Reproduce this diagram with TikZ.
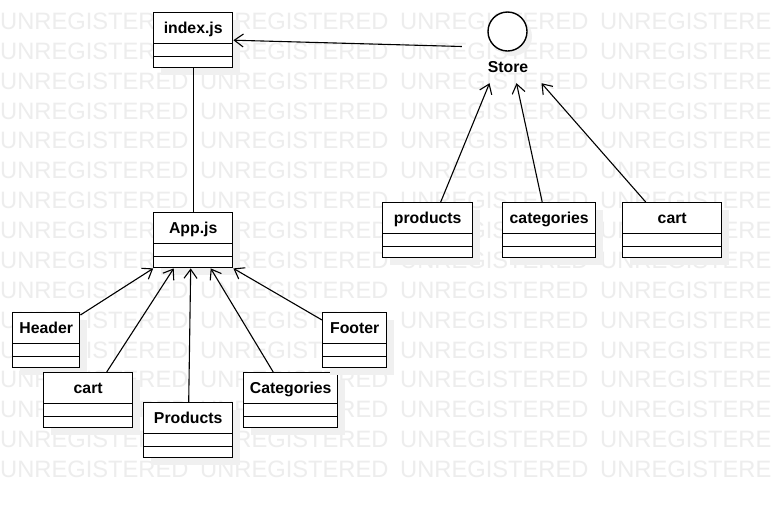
\documentclass[tikz,border=0pt]{standalone}
\usepackage{fontspec}
\setmainfont{Liberation Sans}
\usetikzlibrary{calc}
\usetikzlibrary{arrows.meta}
\usetikzlibrary{shadows}
\tikzset{every edge/.style={draw, line width=1.1pt}}
\tikzset{
  classbox/.style={draw, line width=1.4pt, fill=white, anchor=north west, inner sep=0pt,
    minimum height=55pt, text height=12pt, text depth=25pt,
    font=\bfseries\fontsize{15.8}{18}\selectfont,
    drop shadow={shadow xshift=7pt, shadow yshift=-7pt, fill=black!6, opacity=1},
    path picture={
      \draw[line width=1.4pt] ([yshift=-31pt]path picture bounding box.north west) -- ([yshift=-31pt]path picture bounding box.north east);
      \draw[line width=1.4pt] ([yshift=-44pt]path picture bounding box.north west) -- ([yshift=-44pt]path picture bounding box.north east);
    }},
  uses/.style={-{Straight Barb[length=9pt,width=13pt]}},
  wmark/.style={anchor=base west, inner sep=0pt, text=black!7, font=\fontsize{23.7}{28}\selectfont},
}

\begin{document}
\begin{tikzpicture}[x=1pt, y=-1pt]
    \useasboundingbox (0,0) rectangle (771,507);
    \fill[white] (0,0) rectangle (771,507);

    % watermark
    \begin{scope}
    \clip (0,0) rectangle (771,507);
    \foreach \row in {0,...,15}
      \foreach \col in {0,...,3}
        \node[wmark] (wm\row-\col) at ({200*\col}, {29.5+29.87*\row}) {UNREGISTERED};
    \end{scope}

    % components
    \node[classbox, minimum width=79pt] (index) at (153, 12) {index.js};
    \node[classbox, minimum width=79pt] (app) at (153, 212) {App.js};
    \node[classbox, minimum width=67pt] (header) at (12, 312) {Header};
    \node[classbox, minimum width=89pt] (cartL) at (43, 372) {cart};
    \node[classbox, minimum width=89pt] (prodL) at (143, 402) {Products};
    \node[classbox, minimum width=94pt] (catL) at (243, 372) {Categories};
    \node[classbox, minimum width=64pt] (footer) at (322, 312) {Footer};

    % store and slices
    \node[minimum width=91pt, minimum height=73pt, inner sep=0pt] (store) at (507.5, 46.5) {};
    \node[draw, circle, line width=1.4pt, fill=white, minimum size=39pt, inner sep=0pt,
          drop shadow={shadow xshift=5pt, shadow yshift=-5pt, fill=black!6, opacity=1}] (storehead) at (507.5, 31.5) {};
    \node[anchor=base, inner sep=0pt, font=\bfseries\fontsize{15.8}{18}\selectfont] (storelbl) at (508, 72) {Store};
    \node[classbox, minimum width=90pt] (prodR) at (382, 202) {products};
    \node[classbox, minimum width=93pt] (catR) at (502, 202) {categories};
    \node[classbox, minimum width=99pt] (cartR) at (622, 202) {cart};

    \draw (store.west) edge[uses] (index.east);
    \draw (app.north) edge (index.south);

    \draw ($(header.north east)+(0,3)$) edge[uses] ($(app.south)+(-40,0)$);
    \draw ($(cartL.north)+(18.5,0)$) edge[uses] ($(app.south)+(-19.5,0)$);
    \draw ($(prodL.north)+(0.5,0)$) edge[uses] ($(app.south)+(-2.5,0)$);
    \draw ($(catL.north)+(-17.5,0)$) edge[uses] ($(app.south)+(17.5,0)$);
    \draw ($(footer.north west)+(0,8)$) edge[uses] (app.south east);

    \draw ($(prodR.north)+(13,0)$) edge[uses] ($(store.south)+(-18,0)$);
    \draw ($(catR.north)+(-7,0)$) edge[uses] ($(store.south)+(9,0)$);
    \draw ($(cartR.north)+(-26.5,0)$) edge[uses] ($(store.south)+(34,0)$);
\end{tikzpicture}
\end{document}
